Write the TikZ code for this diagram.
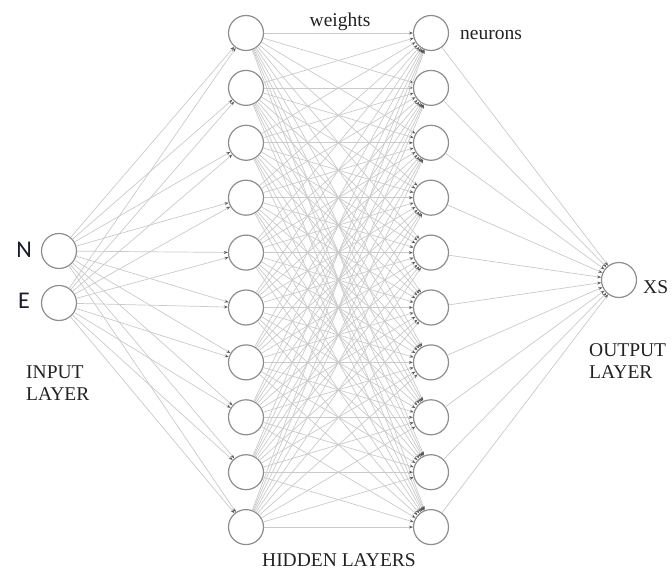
\documentclass[tikz,border=0pt]{standalone}
\usepackage{fontspec}
\setmainfont{Liberation Serif}
\newfontfamily\labelsans{Carlito}
\usetikzlibrary{arrows.meta}

\definecolor{ringgray}{HTML}{8E8E8E}
\definecolor{wiregray}{HTML}{CACACA}
\definecolor{tipgray}{HTML}{5A5A5A}
\definecolor{inkgray}{HTML}{222222}
\definecolor{inknavy}{HTML}{1A1A30}

\begin{document}
\begin{tikzpicture}[x=1pt,y=-1pt,
  neuron/.style={circle, draw=ringgray, line width=1.2pt, minimum size=35pt, inner sep=0pt, fill=white},
  wire/.style={draw=wiregray, line width=0.7pt, -{Stealth[length=4pt,width=3pt,color=tipgray]}},
  caption/.style={font=\fontsize{19.5}{22}\selectfont, text=inkgray, inner sep=0pt},
  varlabel/.style={font=\labelsans\fontsize{24}{24}\selectfont, text=inknavy, inner sep=0pt}]

\useasboundingbox (0,0) rectangle (672,572);

% input layer
\node[neuron] (n) at (59,251) {};
\node[neuron] (e) at (59,303) {};

% two hidden layers of ten neurons each
\foreach \i in {0,...,9} {
  \node[neuron] (h\i) at (246,{33+54.9*\i}) {};
  \node[neuron] (k\i) at (431,{33+54.9*\i}) {};
}

% output layer
\node[neuron] (out) at (619,280) {};

% weighted connections
\foreach \a in {n,e}
  \foreach \i in {0,...,9}
    \draw[wire] (\a) -- (h\i);
\foreach \i in {0,...,9}
  \foreach \j in {0,...,9}
    \draw[wire] (h\i) -- (k\j);
\foreach \j in {0,...,9}
  \draw[wire] (k\j) -- (out);

% labels
\node[varlabel] (lblN) at (24,250) {N};
\node[varlabel] (lblE) at (24,301) {E};
\node[caption, anchor=base west] (lblXS) at (643,293) {XS};
\node[caption, anchor=base] (lblW) at (340,27) {weights};
\node[caption, anchor=base west] (lblNeu) at (460,40) {neurons};
\node[caption, anchor=north west, align=left] (lblIn) at (26,366) {INPUT\\LAYER};
\node[caption, anchor=north west, align=left] (lblOut) at (589,343) {OUTPUT\\LAYER};
\node[caption, anchor=base] (lblHid) at (339,566) {HIDDEN LAYERS};
\end{tikzpicture}
\end{document}
